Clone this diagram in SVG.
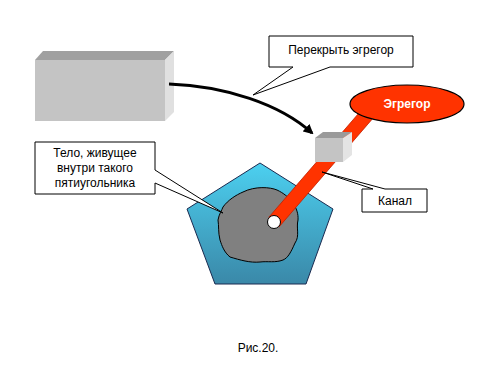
<svg xmlns="http://www.w3.org/2000/svg" width="500" height="375" viewBox="0 0 500 375">
<defs>
<style>
.t{font-family:"Liberation Sans",Arial,sans-serif;font-size:12px;fill:#000;text-anchor:middle}
.box{fill:#fff;stroke:#000;stroke-width:1}
</style>
<linearGradient id="pg" x1="0" y1="0" x2="0" y2="1">
<stop offset="0" stop-color="#4cd0f0"/>
<stop offset="1" stop-color="#3a88a8"/>
</linearGradient>
<marker id="ah" markerWidth="10" markerHeight="10" refX="8" refY="5" orient="auto" markerUnits="userSpaceOnUse">
<path d="M0,0 L10,5 L0,10 Z" fill="#000"/>
</marker>
</defs>
<rect width="500" height="375" fill="#fff"/>

<g id="graybox">
<polygon points="35,60 43,51 174,51 165,60" fill="#a0a0a0"/>
<polygon points="165,60 174,51 174,112 165,121" fill="#e0e0e0"/>
<rect x="35" y="60" width="130" height="61" fill="#c4c4c4"/>
</g>

<g id="pentagon">
<polygon points="260,163 333,209 306,284 215,284 187,209" fill="url(#pg)" stroke="#1a2a50" stroke-width="1"/>
<path d="M243,192 C255,186 270,187 277,190 C290,196 299,208 298,220 C296,228 300,236 295,243 C291,252 288,258 283,260 C275,263 268,261 260,262 C250,263 240,260 230,257 C224,252 222,246 220,240 C218,232 219,226 218,220 C219,214 222,210 223,207 C228,200 236,195 243,192 Z" fill="#808080" stroke="#000" stroke-width="1"/>
</g>

<g id="channel">
<polygon points="381.2,108.7 370.8,99.3 268.8,217.3 279.2,226.7" fill="#ff3300" stroke="#c02000" stroke-width="0.8"/>
<circle cx="274" cy="222" r="6.5" fill="#fff" stroke="#000" stroke-width="1"/>
</g>

<g id="egregor">
<ellipse cx="407" cy="104" rx="57" ry="19" fill="#ff3300" stroke="#000" stroke-width="1.2"/>
<text x="407" y="108" class="t" style="fill:#fff;font-weight:bold">Эгрегор</text>
</g>

<g id="cube">
<polygon points="315,138 323,132 352,132 343,138" fill="#9a9a9a"/>
<polygon points="343,138 352,132 352,155 343,162" fill="#e4e4e4"/>
<rect x="315" y="138" width="28" height="24" fill="#c4c4c4"/>
</g>

<g id="connectors">
<path d="M169,84 C225,86 280,104 312,133" fill="none" stroke="#000" stroke-width="3" marker-end="url(#ah)"/>
</g>

<g id="callout1">
<polygon points="269,36 413,36 413,67 330,67 253,95 293,67 269,67" class="box"/>
<text x="341" y="51" class="t" dominant-baseline="middle">Перекрыть эгрегор</text>
</g>

<g id="callout2">
<polygon points="362,189 373,189 322,172 385,189 427,189 427,212 362,212" class="box"/>
<text x="395" y="205" class="t">Канал</text>
</g>

<g id="callout3">
<polygon points="35,142 155,142 155,170 223,213 155,183 155,194 35,194" class="box"/>
<text x="95" y="157" class="t">Тело, живущее</text>
<text x="95" y="172" class="t">внутри такого</text>
<text x="95" y="187" class="t">пятиугольника</text>
</g>

<text x="258" y="352" class="t">Рис.20.</text>
</svg>
